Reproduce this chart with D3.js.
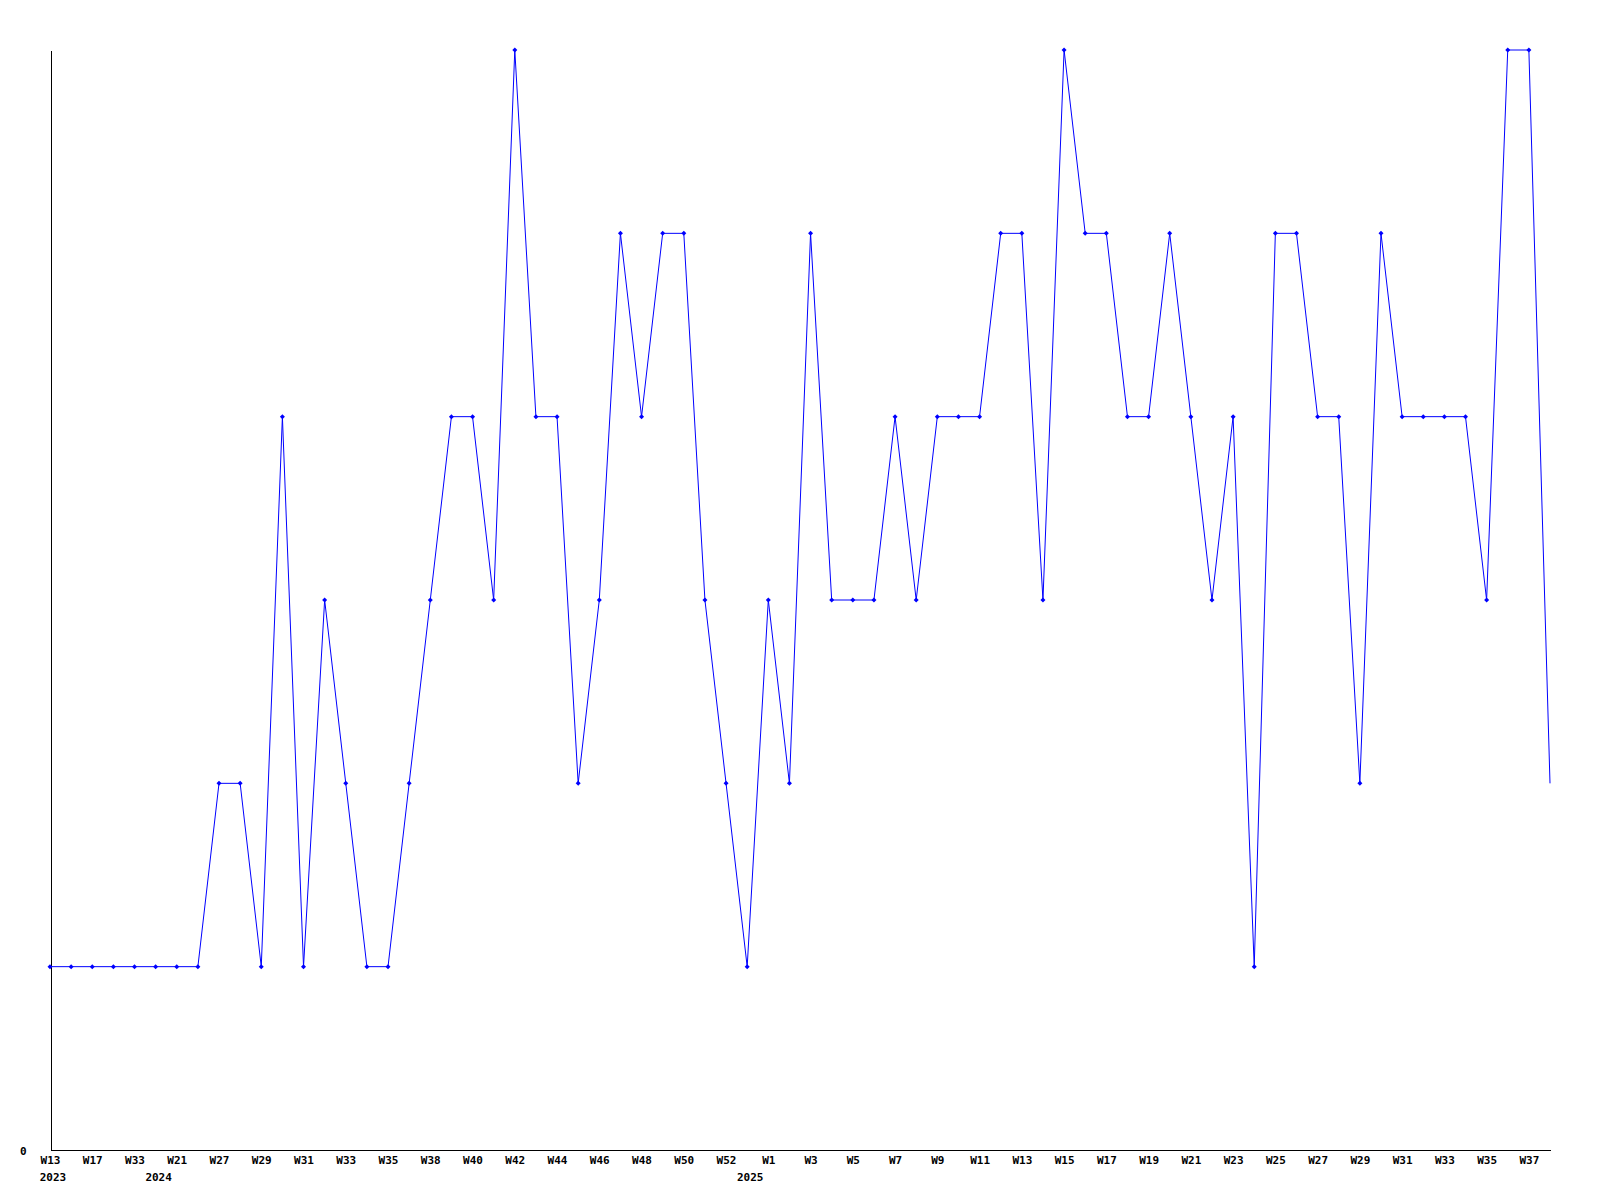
<!DOCTYPE html>
<html>
<head>
<meta charset="utf-8">
<script src="https://cdn.jsdelivr.net/npm/d3@7"></script>
<style>
	body { margin: 0; background: #fff; }
	.axis text { font-family: 'DejaVu Sans Mono', monospace; font-size: 11px; font-weight: bold; fill: #000; }
	.axis path { stroke: #000; shape-rendering: crispEdges; }
</style>
</head>
<body>
<svg class="chart" width="1600" height="1200"></svg>
<script>
/** DATA **/
let values = [1, 1, 1, 1, 1, 1, 1, 1, 2, 2, 1, 4, 1, 3, 2, 1, 1, 2, 3, 4,
	4, 3, 6, 4, 4, 2, 3, 5, 4, 5, 5, 3, 2, 1, 3, 2, 5, 3, 3, 3,
	4, 3, 4, 4, 4, 5, 5, 3, 6, 5, 5, 4, 4, 5, 4, 3, 4, 1, 5, 5,
	4, 4, 2, 5, 4, 4, 4, 4, 3, 6, 6, 2];

// one label on every second point
let weekLabels = ['W13', 'W17', 'W33', 'W21', 'W27', 'W29', 'W31', 'W33', 'W35', 'W38',
	'W40', 'W42', 'W44', 'W46', 'W48', 'W50', 'W52', 'W1', 'W3', 'W5',
	'W7', 'W9', 'W11', 'W13', 'W15', 'W17', 'W19', 'W21', 'W23', 'W25',
	'W27', 'W29', 'W31', 'W33', 'W35', 'W37'];

// year labels: point index where the year starts
let yearLabels = [{ idx: 0, text: '2023' }, { idx: 5, text: '2024' }, { idx: 33, text: '2025' }];

let yTicks = [0];

/** CONSTANTS **/
let margin = { top: 50, right: 50, bottom: 50, left: 50 };
let width = 1600, height = 1200;

let x = d3.scalePoint()
	.domain(d3.range(values.length))
	.range([margin.left, width - margin.right]);

let y = d3.scaleLinear()
	.domain([0, d3.max(values)])
	.range([height - margin.bottom, margin.top]);

let svg = d3.select('.chart');

// x axis
let xAxis = svg.append('g')
	.attr('class', 'axis x-axis')
	.attr('transform', 'translate(0,' + (y(0) + 0.5) + ')')
	.call(d3.axisBottom(x)
		.tickValues(d3.range(0, values.length, 2))
		.tickFormat(function(d) { return weekLabels[d / 2]; })
		.tickSize(0)
		.tickSizeOuter(0)
		.tickPadding(6));
xAxis.select('.domain').attr('d', 'M' + (x(0) + 0.5) + ',0H' + (x(values.length - 1) + 1));

// year row
svg.append('g')
	.attr('class', 'axis years')
	.selectAll('text')
	.data(yearLabels)
	.enter()
	.append('text')
	.attr('x', function(d) { return x(d.idx) + 3; })
	.attr('y', y(0) + 31)
	.attr('text-anchor', 'middle')
	.text(function(d) { return d.text; });

// y axis
svg.append('g')
	.attr('class', 'axis y-axis')
	.attr('transform', 'translate(' + (margin.left + 0.5) + ',0.5)')
	.call(d3.axisLeft(y)
		.tickValues(yTicks)
		.tickFormat(d3.format('d'))
		.tickSize(0)
		.tickSizeOuter(0)
		.tickPadding(24));

// line
let line = d3.line()
	.x(function(d, i) { return x(i); })
	.y(function(d) { return y(d); });

svg.append('path')
	.datum(values)
	.attr('fill', 'none')
	.attr('stroke', '#0000ff')
	.attr('stroke-width', 1)
	.attr('d', line);

// markers (last point has none)
svg.selectAll('.marker')
	.data(values.slice(0, values.length - 1))
	.enter()
	.append('path')
	.attr('class', 'marker')
	.attr('transform', function(d, i) { return 'translate(' + x(i) + ',' + y(d) + ')'; })
	.attr('d', 'M-2.5,0L0,-2.5L2.5,0L0,2.5Z')
	.attr('fill', '#0000ff');
</script>
</body>
</html>
